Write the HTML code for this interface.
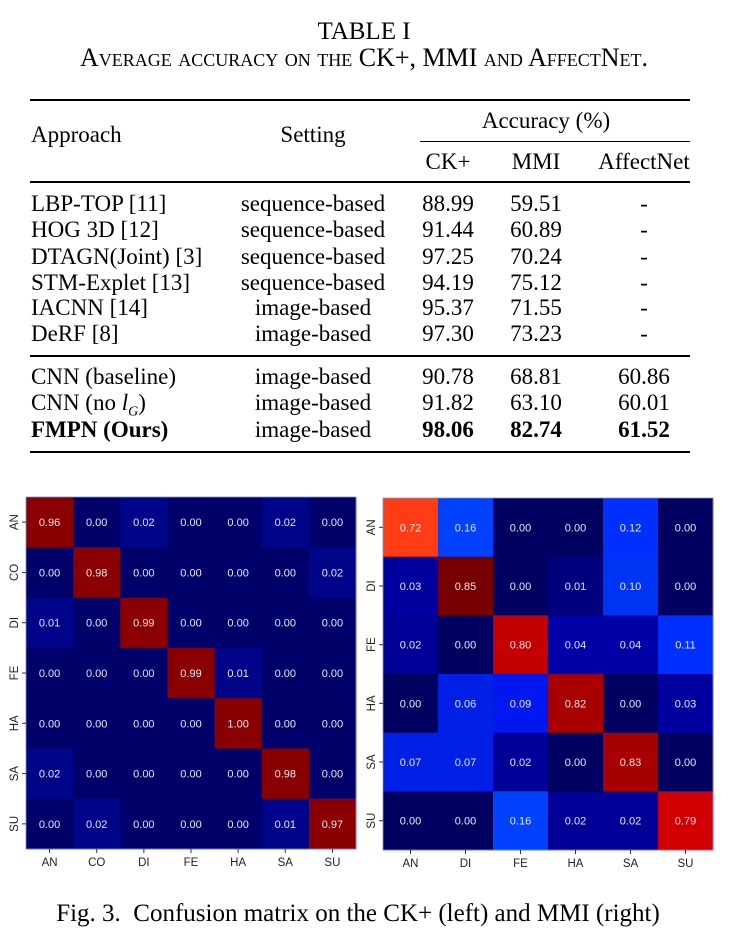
<!DOCTYPE html>
<html><head><meta charset="utf-8"><style>
body{margin:0;width:729px;height:943px;background:#fff;position:relative;overflow:hidden;font-family:"Liberation Serif",serif;color:#000}
.t{position:absolute;white-space:nowrap;font-size:23px;line-height:26px}
.c{transform:translateX(-50%)}
.r{position:absolute;background:#000}
.sc{font-variant:small-caps}
</style></head><body>
<div class="t c" style="left:364px;top:19px;font-size:25px">TABLE I</div>
<div class="t c sc" style="left:364px;top:45px;font-size:26px;transform:translateX(-50%) scaleX(1.0)">Average accuracy on the CK+, MMI and AffectNet.</div>
<div class="r" style="left:30px;top:99px;width:660px;height:2px"></div>
<div class="r" style="left:420px;top:141px;width:270px;height:1px"></div>
<div class="r" style="left:30px;top:181px;width:660px;height:1.5px"></div>
<div class="r" style="left:30px;top:355px;width:660px;height:1.5px"></div>
<div class="r" style="left:30px;top:451px;width:660px;height:2px"></div>
<div class="t" style="left:31px;top:122px">Approach</div>
<div class="t c" style="left:313px;top:122px">Setting</div>
<div class="t c" style="left:546px;top:108px">Accuracy (%)</div>
<div class="t c" style="left:448px;top:149px">CK+</div>
<div class="t c" style="left:536px;top:149px">MMI</div>
<div class="t c" style="left:644px;top:149px">AffectNet</div>
<div id="rows"></div>
<svg style="position:absolute;left:0;top:0" width="729" height="943" font-family="Liberation Sans, sans-serif">
<g id="L"></g><g id="R"></g>
</svg>
<div class="t c" style="left:358px;top:901px;font-size:25px">Fig. 3.&nbsp; Confusion matrix on the CK+ (left) and MMI (right)</div>
<script>
var rows=[["LBP-TOP [11]","sequence-based","88.99","59.51","-",191],
["HOG 3D [12]","sequence-based","91.44","60.89","-",217],
["DTAGN(Joint) [3]","sequence-based","97.25","70.24","-",244],
["STM-Explet [13]","sequence-based","94.19","75.12","-",270],
["IACNN [14]","image-based","95.37","71.55","-",295],
["DeRF [8]","image-based","97.30","73.23","-",321],
["CNN (baseline)","image-based","90.78","68.81","60.86",364],
["CNN (no <i>l<sub style='font-size:14px'>G</sub></i>)","image-based","91.82","63.10","60.01",390],
["FMPN (Ours)","image-based","98.06","82.74","61.52",417]];
var h="";rows.forEach(function(r,i){var b=i==8?"font-weight:bold;":"";
h+='<div class="t" style="'+b+'left:31px;top:'+r[5]+'px">'+r[0]+'</div>';
h+='<div class="t c" style="left:313px;top:'+r[5]+'px">'+r[1]+'</div>';
h+='<div class="t c" style="'+b+'left:448px;top:'+r[5]+'px">'+r[2]+'</div>';
h+='<div class="t c" style="'+b+'left:536px;top:'+r[5]+'px">'+r[3]+'</div>';
h+='<div class="t c" style="'+b+'left:644px;top:'+r[5]+'px">'+r[4]+'</div>';});
document.getElementById("rows").innerHTML=h;
function col(v,m){
 if(v>=0.9) return m?"#8a0000":"#9a0000";
 if(v>=0.84) return "#760000";
 if(v>=0.81) return "#a80000";
 if(v>=0.795) return "#c40000";
 if(v>=0.75) return "#d00000";
 if(v>=0.6) return "#ff3c14";
 if(v>=0.14) return "#0042ff";
 if(v>=0.11) return "#0030ff";
 if(v>=0.095) return "#0034f5";
 if(v>=0.085) return "#0018f0";
 if(v>=0.06) return "#0020e6";
 if(v>=0.05) return "#0014c8";
 if(v>=0.035) return "#0000a8";
 if(v>=0.025) return "#00009e";
 if(v>=0.015) return "#000096";
 if(v>=0.005) return "#00007e";
 return "#000060";}
function draw(id,x0,y0,w,h,labX,labY,data,ml){
 var n=labX.length,cw=w/n,ch=h/labY.length,s="";
 data.forEach(function(row,i){row.forEach(function(v,j){
  var c=col(v,ml); if(ml&&v<0.005)c="#00006a"; if(ml&&v>0.005&&v<0.03)c="#000488";
  s+='<rect x="'+(x0+j*cw)+'" y="'+(y0+i*ch)+'" width="'+(cw+0.5)+'" height="'+(ch+0.5)+'" fill="'+c+'"/>';
  s+='<text x="'+(x0+j*cw+cw/2)+'" y="'+(y0+i*ch+ch/2+4)+'" fill="#e8e8f0" font-size="11" text-anchor="middle">'+v.toFixed(2)+'</text>';});});
 s+='<rect x="'+x0+'" y="'+y0+'" width="'+w+'" height="'+h+'" fill="none" stroke="#8890d0" stroke-width="0.8"/>';
 labX.forEach(function(l,j){var x=x0+j*cw+cw/2;s+='<line x1="'+x+'" y1="'+(y0+h)+'" x2="'+x+'" y2="'+(y0+h+4)+'" stroke="#333"/><text x="'+x+'" y="'+(y0+h+17)+'" font-size="11.5" text-anchor="middle" fill="#222">'+l+'</text>';});
 labY.forEach(function(l,i){var y=y0+i*ch+ch/2;s+='<line x1="'+(x0-4)+'" y1="'+y+'" x2="'+x0+'" y2="'+y+'" stroke="#333"/><text transform="translate('+(x0-8)+','+y+') rotate(-90)" font-size="11.5" text-anchor="middle" fill="#222">'+l+'</text>';});
 document.getElementById(id).innerHTML=s;}
draw("L",26,497,330,352,["AN","CO","DI","FE","HA","SA","SU"],["AN","CO","DI","FE","HA","SA","SU"],
[[.96,0,.02,0,0,.02,0],[0,.98,0,0,0,0,.02],[.01,0,.99,0,0,0,0],[0,0,0,.99,.01,0,0],[0,0,0,0,1,0,0],[.02,0,0,0,0,.98,0],[0,.02,0,0,0,.01,.97]],true);
draw("R",383,498,330,352,["AN","DI","FE","HA","SA","SU"],["AN","DI","FE","HA","SA","SU"],
[[.72,.16,0,0,.12,0],[.03,.85,0,.01,.10,0],[.02,0,.80,.04,.04,.11],[0,.06,.09,.82,0,.03],[.07,.07,.02,0,.83,0],[0,0,.16,.02,.02,.79]],false);
</script>
</body></html>
